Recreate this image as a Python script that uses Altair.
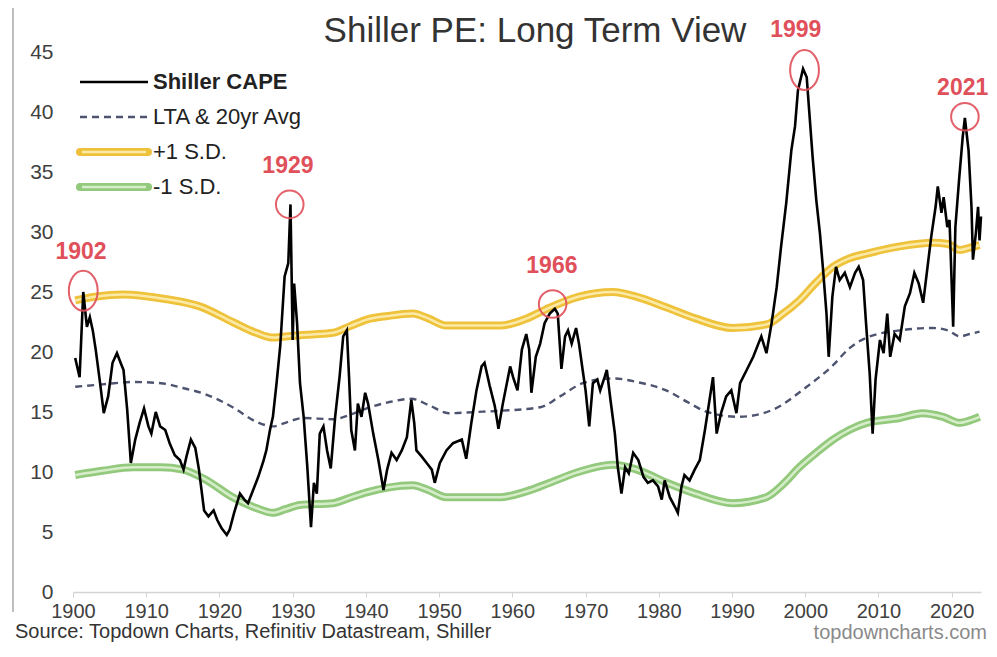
import altair as alt
import pandas as pd

# ---------------- data ----------------
cape_years = [1900.3, 1900.9, 1901.4, 1901.9, 1902.3, 1902.7, 1903.1, 1903.7, 1904.2, 1904.8,
              1905.4, 1906.0, 1906.5, 1906.9, 1907.4, 1907.9, 1908.5, 1909.1, 1909.7, 1910.3,
              1910.7, 1911.3, 1911.9, 1912.6, 1913.2, 1913.9, 1914.6, 1915.1, 1915.5, 1916.1,
              1916.7, 1917.2, 1917.9, 1918.5, 1919.2, 1919.7, 1920.3, 1921.0, 1921.4, 1922.0,
              1922.8, 1923.4, 1923.9, 1924.6, 1925.3, 1926.0, 1926.4, 1926.9, 1927.3, 1927.8,
              1928.3, 1928.9, 1929.4, 1929.7, 1930.0, 1930.2, 1930.6, 1931.0, 1931.5, 1932.0,
              1932.5, 1932.9, 1933.3, 1933.7, 1934.2, 1934.7, 1935.2, 1935.8, 1936.4, 1936.9,
              1937.4, 1937.7, 1938.0, 1938.5, 1938.9, 1939.4, 1939.9, 1940.3, 1941.0, 1941.7,
              1942.4, 1942.9, 1943.5, 1944.2, 1944.9, 1945.6, 1946.2, 1946.6, 1946.9, 1947.6,
              1948.3, 1949.0, 1949.4, 1950.1, 1951.0, 1951.9, 1953.1, 1953.7, 1954.4, 1955.1,
              1955.8, 1956.2, 1956.9, 1957.6, 1958.1, 1958.7, 1959.7, 1960.1, 1960.7, 1961.3,
              1961.9, 1962.3, 1962.6, 1963.2, 1963.8, 1964.4, 1965.1, 1965.8, 1966.2, 1966.7,
              1967.2, 1967.6, 1968.1, 1968.7, 1969.1, 1969.6, 1970.0, 1970.5, 1971.0, 1971.6,
              1972.0, 1972.6, 1972.9, 1973.4, 1974.0, 1974.4, 1974.9, 1975.4, 1975.9, 1976.5,
              1977.2, 1977.9, 1978.5, 1979.2, 1979.9, 1980.4, 1980.8, 1981.5, 1982.2, 1982.6,
              1983.1, 1983.5, 1984.2, 1984.9, 1985.6, 1986.3, 1987.0, 1987.4, 1987.9, 1988.5,
              1989.2, 1989.9, 1990.6, 1991.1, 1992.0, 1992.9, 1993.6, 1994.0, 1994.7, 1995.4,
              1996.1, 1996.7, 1997.4, 1998.1, 1998.6, 1999.0, 1999.7, 2000.2, 2000.5, 2001.0,
              2001.5, 2002.0, 2002.4, 2002.9, 2003.2, 2003.7, 2004.2, 2004.7, 2005.4, 2006.1,
              2006.8, 2007.3, 2007.9, 2008.3, 2008.8, 2009.2, 2009.6, 2010.2, 2010.7, 2011.2,
              2011.6, 2012.2, 2012.9, 2013.6, 2014.3, 2014.9, 2015.5, 2016.1, 2016.6, 2017.2,
              2017.8, 2018.1, 2018.6, 2018.9, 2019.4, 2019.7, 2020.2, 2020.5, 2021.0, 2021.5,
              2021.8, 2022.3, 2022.7, 2022.9, 2023.3, 2023.6, 2023.8, 2024.0]
cape_values = [19.5, 17.9, 25.0, 22.1, 22.9, 21.8, 20.2, 17.4, 14.9, 16.3,
               19.1, 19.9, 19.1, 18.5, 15.2, 10.75, 12.7, 14.1, 15.3, 13.8,
               13.2, 15.0, 13.8, 13.5, 12.4, 11.4, 11.0, 10.2, 11.3, 12.7,
               12.0, 10.2, 6.8, 6.3, 6.8, 6.0, 5.3, 4.75, 5.2, 6.6,
               8.2, 7.7, 7.4, 8.5, 9.6, 10.9, 11.8, 13.5, 14.6, 17.4,
               20.5, 26.3, 27.4, 32.3, 21.0, 25.7, 22.4, 17.4, 14.6, 10.4,
               5.4, 9.1, 8.2, 13.2, 13.8, 11.8, 10.3, 14.6, 17.9, 21.3,
               21.8, 17.9, 13.5, 11.8, 15.7, 14.6, 16.6, 15.7, 13.2, 11.0,
               8.5, 10.2, 11.6, 11.0, 11.8, 12.9, 16.0, 14.1, 11.8, 11.3,
               10.75, 10.2, 9.1, 10.75, 11.8, 12.4, 12.7, 11.1, 14.1, 16.8,
               18.8, 19.1, 17.2, 15.5, 13.6, 15.7, 18.8, 17.9, 16.8, 20.2,
               21.5, 20.2, 16.6, 19.6, 20.7, 22.4, 23.2, 23.6, 23.2, 18.6,
               21.3, 21.8, 20.7, 22.0, 20.7, 18.5, 16.8, 13.8, 17.4, 17.7,
               16.8, 17.9, 18.5, 16.0, 13.2, 10.4, 8.2, 10.4, 9.9, 11.6,
               11.0, 9.6, 9.1, 9.3, 8.8, 7.7, 9.3, 7.9, 7.1, 6.6,
               8.8, 9.75, 9.3, 10.2, 11.0, 13.5, 16.3, 17.9, 13.2, 14.9,
               16.3, 16.8, 14.9, 17.4, 18.5, 19.6, 20.7, 21.3, 19.9, 22.4,
               25.4, 28.8, 32.4, 36.8, 38.8, 41.8, 43.6, 42.9, 40.4, 36.3,
               32.7, 29.9, 27.1, 23.2, 19.6, 24.6, 27.1, 26.0, 26.6, 25.4,
               26.6, 27.1, 26.0, 22.4, 18.2, 13.2, 17.7, 21.0, 19.9, 23.2,
               19.6, 21.5, 21.0, 23.8, 24.9, 26.6, 25.7, 24.1, 26.6, 29.6,
               32.1, 33.8, 31.6, 32.9, 30.4, 31.0, 22.1, 30.4, 34.3, 37.9,
               39.5, 36.8, 32.1, 27.7, 29.9, 32.1, 29.3, 31.3]

lta_years = [1900.3, 1904, 1908.2, 1912, 1915, 1918, 1921.8, 1925, 1927.3, 1929,
             1931.4, 1935.5, 1938, 1940.1, 1943, 1946.2, 1948.5, 1951.3, 1955, 1958.3,
             1963.8, 1966.5, 1969.6, 1973.7, 1977, 1981, 1984, 1986.6, 1991, 1995.6,
             2000.2, 2003.8, 2006, 2008.4, 2012.9, 2017.4, 2019.5, 2021.1, 2022.5, 2023.8]
lta_values = [17.1, 17.3, 17.5, 17.4, 17.0, 16.5, 15.4, 14.2, 13.8, 14.1,
              14.5, 14.4, 14.8, 15.3, 15.8, 16.1, 15.6, 14.9, 15.0, 15.1,
              15.4, 16.3, 17.4, 17.8, 17.5, 16.8, 15.8, 15.0, 14.6, 15.2,
              17.1, 18.9, 20.3, 21.2, 21.8, 22.0, 21.8, 21.3, 21.5, 21.7]

up_years = [1900.3, 1903, 1906.8, 1912.8, 1917.3, 1921.8, 1925, 1927.3, 1929, 1931,
            1935.5, 1938, 1940.1, 1943, 1946.4, 1948.5, 1951, 1955, 1958.3, 1962,
            1965.1, 1969, 1973.7, 1977, 1981.1, 1985, 1990.1, 1994.7, 1997, 1999.2,
            2001.5, 2003.8, 2006, 2008.4, 2012.9, 2017.4, 2019.5, 2021.1, 2022.5, 2023.8]
up_values = [24.3, 24.6, 24.8, 24.4, 23.8, 22.5, 21.6, 21.2, 21.3, 21.4,
             21.6, 22.2, 22.7, 23.0, 23.2, 22.8, 22.2, 22.2, 22.2, 22.8,
             23.7, 24.6, 25.0, 24.6, 23.7, 22.8, 22.0, 22.3, 23.2, 24.3,
             25.8, 27.1, 27.8, 28.2, 28.8, 29.1, 29.0, 28.5, 28.7, 28.9]

lo_years = [1900.3, 1904, 1908.2, 1912, 1915, 1918, 1921.8, 1925, 1927.3, 1929,
            1931, 1935.5, 1938, 1940.1, 1943, 1946.4, 1948.5, 1951, 1955, 1958.3,
            1962, 1965.1, 1969, 1973.7, 1977, 1981.1, 1985, 1990.1, 1994.7, 1997,
            1999.2, 2001.5, 2003.8, 2006, 2008.4, 2012.9, 2016, 2018.8, 2021.1, 2022.5, 2023.8]
lo_values = [9.75, 10.1, 10.4, 10.4, 10.2, 9.4, 7.9, 7.0, 6.6, 6.9,
             7.25, 7.4, 7.9, 8.3, 8.7, 8.9, 8.5, 7.9, 7.9, 7.9,
             8.4, 9.1, 10.0, 10.6, 10.2, 9.1, 8.2, 7.4, 7.9, 9.0,
             10.4, 11.6, 12.7, 13.5, 14.1, 14.5, 14.9, 14.6, 14.1, 14.3, 14.6]

ann_labels = ["1902", "1929", "1966", "1999", "2021"]
ann_text_year = [1901.1, 1929.35, 1965.4, 1998.7, 2021.5]
ann_text_value = [28.3, 35.5, 27.2, 46.8, 42.0]
ann_circle_year = [1901.4, 1929.6, 1965.5, 1999.9, 2021.8]
ann_circle_value = [25.1, 32.3, 24.0, 43.5, 39.6]

x_ticks = list(range(1900, 2021, 10))
y_ticks = list(range(0, 46, 5))

legend_labels = ["Shiller CAPE", "LTA & 20yr Avg", "+1 S.D.", "-1 S.D."]

# ---------------- tables ----------------
df_cape = pd.DataFrame({"year": cape_years, "value": cape_values})
df_lta = pd.DataFrame({"year": lta_years, "value": lta_values})
df_up = pd.DataFrame({"year": up_years, "value": up_values})
df_lo = pd.DataFrame({"year": lo_years, "value": lo_values})
df_ann_t = pd.DataFrame({"label": ann_labels, "year": ann_text_year, "value": ann_text_value})
df_ann_c = pd.DataFrame({"label": ann_labels, "year": ann_circle_year, "value": ann_circle_value})
one = pd.DataFrame({"a": [0]})

FONT = "Liberation Sans"
TXT = "#404040"

X = alt.X("year:Q",
          scale=alt.Scale(domain=[1900, 2024], nice=False, zero=False),
          axis=alt.Axis(values=x_ticks, format="d", title=None, grid=False,
                        labelFlush=False, labelFontSize=20, labelColor=TXT, labelFont=FONT,
                        domainColor="#d4d4d4", domainWidth=1.5, tickColor="#d4d4d4",
                        tickSize=5, labelPadding=4))
Y = alt.Y("value:Q",
          scale=alt.Scale(domain=[0, 45], nice=False, zero=False),
          axis=alt.Axis(values=y_ticks, title=None, grid=False, domain=False, ticks=False,
                        labelFontSize=21, labelColor=TXT, labelFont=FONT, labelPadding=20))

def band(df, outer, inner):
    a = alt.Chart(df).mark_line(color=outer, strokeWidth=8, interpolate="monotone").encode(x=X, y=Y)
    b = alt.Chart(df).mark_line(color=inner, strokeWidth=2.5, interpolate="monotone").encode(x=X, y=Y)
    return a + b

YEL_O, YEL_I = "#efc23c", "#fbe9a6"
GRN_O, GRN_I = "#93c97c", "#d6edc9"
DASH = "#4e5470"
RED = "#e0505a"

upper = band(df_up, YEL_O, YEL_I)
lower = band(df_lo, GRN_O, GRN_I)
lta = alt.Chart(df_lta).mark_line(color=DASH, strokeWidth=2.4, strokeDash=[7, 5],
                                  interpolate="monotone").encode(x=X, y=Y)
cape = alt.Chart(df_cape).mark_line(color="black", strokeWidth=2.6).encode(x=X, y=Y)

ellipse = "M -0.72 0 A 0.72 1 0 1 1 0.72 0 A 0.72 1 0 1 1 -0.72 0 Z"
circ_tall = alt.Chart(df_ann_c).transform_filter(
    alt.FieldOneOfPredicate(field="label", oneOf=["1902", "1999"])
).mark_point(shape=ellipse, size=1600, filled=False, color=RED, strokeWidth=2, opacity=0.9).encode(x=X, y=Y)
circ_round = alt.Chart(df_ann_c).transform_filter(
    alt.FieldOneOfPredicate(field="label", oneOf=["1929", "1966", "2021"])
).mark_point(shape="circle", size=760, filled=False, color=RED, strokeWidth=2, opacity=0.9).encode(x=X, y=Y)
ann_text = alt.Chart(df_ann_t).mark_text(font=FONT, fontSize=23, fontWeight="bold", color=RED,
                                         baseline="middle").encode(x=X, y=Y, text="label:N")

# ---------------- legend (manual) ----------------
lx1, lx2, ltx = 7, 75, 80
rows = [30, 65, 100, 135]
leg = []
leg.append(alt.Chart(one).mark_rule(color="black", strokeWidth=2.6).encode(
    x=alt.value(lx1), x2=alt.value(lx2), y=alt.value(rows[0])))
leg.append(alt.Chart(one).mark_rule(color=DASH, strokeWidth=2.4, strokeDash=[7, 5]).encode(
    x=alt.value(lx1), x2=alt.value(lx2), y=alt.value(rows[1])))
for r, (o, i) in zip(rows[2:], [(YEL_O, YEL_I), (GRN_O, GRN_I)]):
    leg.append(alt.Chart(one).mark_rule(color=o, strokeWidth=8, strokeCap="round").encode(
        x=alt.value(lx1), x2=alt.value(lx2), y=alt.value(r)))
    leg.append(alt.Chart(one).mark_rule(color=i, strokeWidth=2.5).encode(
        x=alt.value(lx1 + 2), x2=alt.value(lx2 - 2), y=alt.value(r)))
for k, (lab, r) in enumerate(zip(legend_labels, rows)):
    leg.append(alt.Chart(one).mark_text(text=lab, font=FONT, fontSize=22, align="left",
                                        baseline="middle", color="#222222",
                                        fontWeight="bold" if k == 0 else "normal").encode(
        x=alt.value(ltx), y=alt.value(r)))

# ---------------- titles / footers ----------------
title = alt.Chart(one).mark_text(text="Shiller PE: Long Term View", font=FONT, fontSize=35,
                                 color="#333333", align="center", baseline="alphabetic").encode(
    x=alt.value(462), y=alt.value(-10))
source = alt.Chart(one).mark_text(text="Source: Topdown Charts, Refinitiv Datastream, Shiller",
                                  font=FONT, fontSize=20, color="#333333", align="left",
                                  baseline="middle").encode(x=alt.value(-58), y=alt.value(580))
site = alt.Chart(one).mark_text(text="topdowncharts.com", font=FONT, fontSize=20, color="#8a8a8a",
                                align="right", baseline="middle").encode(x=alt.value(914), y=alt.value(581))
frame = alt.Chart(one).mark_rule(color="#a8a8a8", strokeWidth=1.5).encode(
    x=alt.value(-60), y=alt.value(-44), y2=alt.value(560))

chart = alt.layer(
    upper, lower, lta, cape, circ_tall, circ_round, ann_text,
    *leg, title, source, site, frame
).properties(
    width=908, height=540,
    autosize=alt.AutoSizeParams(type="none"),
    padding={"left": 65, "top": 44, "right": 8, "bottom": 52},
    background="white",
).configure_view(stroke=None)

chart.save("out.html", embed_options={"renderer": "svg", "actions": False})
